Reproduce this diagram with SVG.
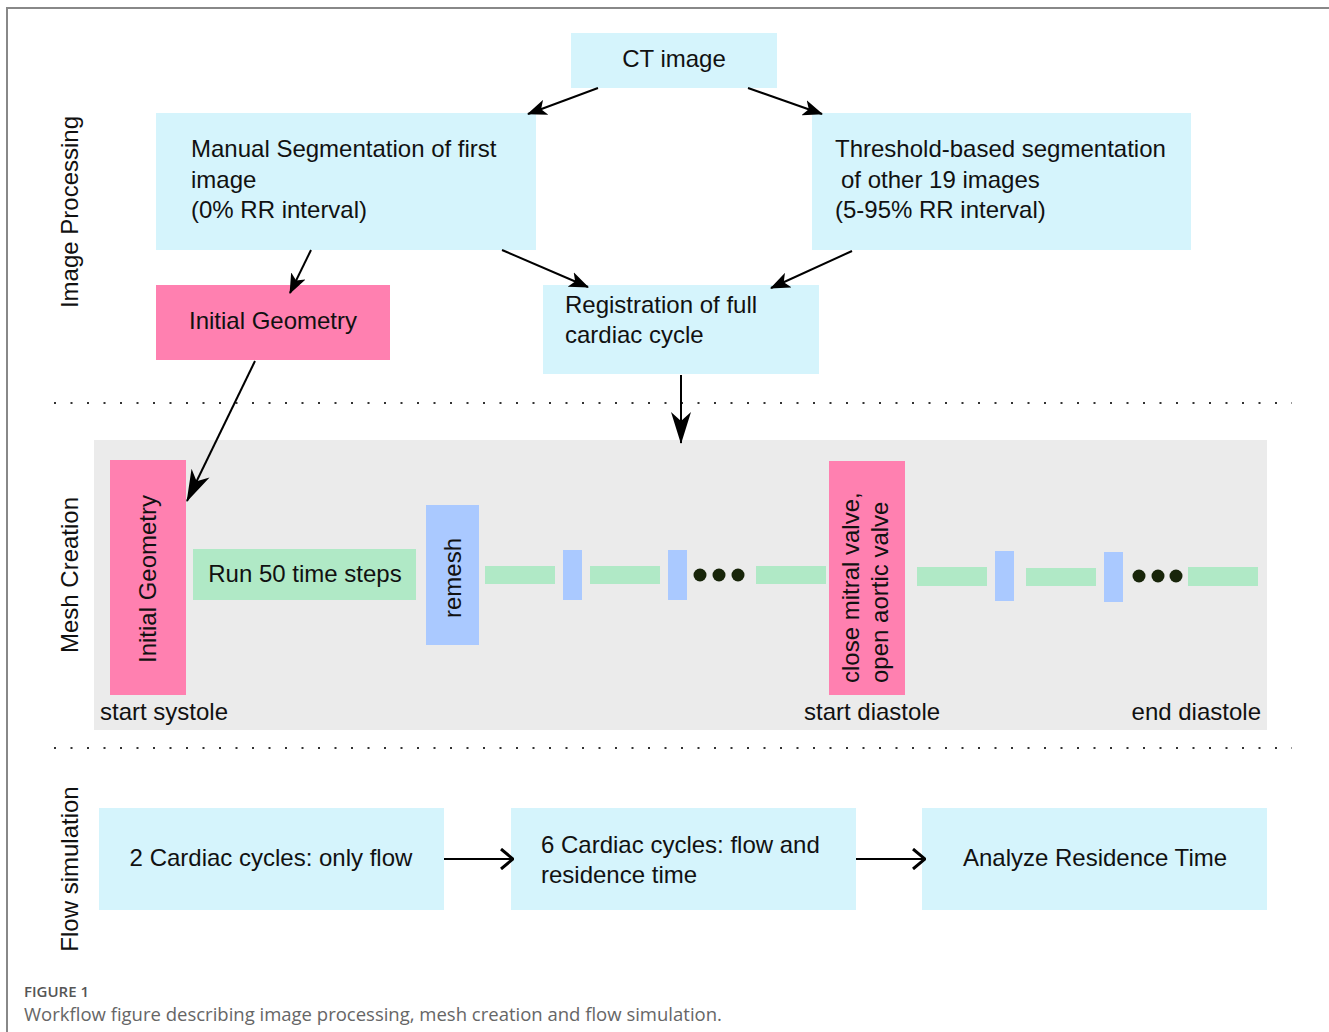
<svg xmlns="http://www.w3.org/2000/svg" width="1329" height="1032" viewBox="0 0 1329 1032">
<defs>
<style>
text{font-family:"Liberation Sans",Arial,sans-serif;font-size:24px;fill:#111}
.cyan{fill:#d5f4fc}
.pink{fill:#ff80b0}
.green{fill:#b0e9c6}
.blue{fill:#aac9ff}
.dot{fill:#18250a}
.conn{stroke:#000;stroke-width:2;fill:none}
.dotted{stroke:#333;stroke-width:2;stroke-dasharray:2 14.5;fill:none}
.cap1{font-family:"Open Sans",sans-serif;font-size:15px;fill:#555;font-weight:600}
.cap2{font-family:"Open Sans",sans-serif;font-size:18.5px;fill:#666}
</style>
<marker id="ah" viewBox="0 0 20 16" refX="19" refY="8" markerWidth="20" markerHeight="16" markerUnits="userSpaceOnUse" orient="auto">
<path d="M0,0 L20,8 L0,16 L5,8 Z" fill="#000"/>
</marker>
<marker id="ahl" viewBox="0 0 32 20" refX="31" refY="10" markerWidth="32" markerHeight="20" markerUnits="userSpaceOnUse" orient="auto">
<path d="M0,0 L32,10 L0,20 L9,10 Z" fill="#000"/>
</marker>
<marker id="oh" viewBox="0 0 14 22" refX="13" refY="11" markerWidth="14" markerHeight="22" markerUnits="userSpaceOnUse" orient="auto">
<path d="M1,1 L13,11 L1,21" fill="none" stroke="#000" stroke-width="3"/>
</marker>
</defs>
<rect width="1329" height="1032" fill="#fff"/>
<path d="M7,1032 V8 H1329" fill="none" stroke="#888" stroke-width="2"/>

<g id="lane-labels">
<text transform="translate(78,212) rotate(-90)" text-anchor="middle">Image Processing</text>
<text transform="translate(78,575) rotate(-90)" text-anchor="middle">Mesh Creation</text>
<text transform="translate(78,869) rotate(-90)" text-anchor="middle">Flow simulation</text>
</g>

<g id="separators">
<line class="dotted" x1="54" y1="403" x2="1292" y2="403"/>
<line class="dotted" x1="54" y1="748" x2="1292" y2="748"/>
</g>

<rect id="mesh-area" x="94" y="440" width="1173" height="290" fill="#ebebeb"/>

<g id="ct-image"><rect class="cyan" x="571" y="33" width="206" height="55"/><text x="674" y="67" text-anchor="middle">CT image</text></g>
<g id="manual-seg"><rect class="cyan" x="156" y="113" width="380" height="137"/>
<text x="191" y="157">Manual Segmentation of first</text><text x="191" y="188">image</text><text x="191" y="218">(0% RR interval)</text></g>
<g id="threshold-seg"><rect class="cyan" x="812" y="113" width="379" height="137"/>
<text x="835" y="157">Threshold-based segmentation</text><text x="841" y="188">of other 19 images</text><text x="835" y="218">(5-95% RR interval)</text></g>
<g id="initial-geometry"><rect class="pink" x="156" y="285" width="234" height="75"/><text x="273" y="329" text-anchor="middle">Initial Geometry</text></g>
<g id="registration"><rect class="cyan" x="543" y="285" width="276" height="89"/>
<text x="565" y="313">Registration of full</text><text x="565" y="343">cardiac cycle</text></g>

<g id="initial-geometry-v"><rect class="pink" x="110" y="460" width="76" height="235"/><text transform="translate(156,579) rotate(-90)" text-anchor="middle">Initial Geometry</text></g>
<g id="run50"><rect class="green" x="193" y="549" width="223" height="51"/><text x="305" y="582" text-anchor="middle">Run 50 time steps</text></g>
<g id="remesh"><rect class="blue" x="426" y="505" width="53" height="140"/><text transform="translate(461,578) rotate(-90)" text-anchor="middle">remesh</text></g>
<g id="steps-1">
<rect class="green" x="485" y="566" width="70" height="18"/>
<rect class="blue" x="563" y="550" width="19" height="50"/>
<rect class="green" x="590" y="566" width="70" height="18"/>
<rect class="blue" x="668" y="550" width="19" height="50"/>
<circle class="dot" cx="700" cy="575" r="6.5"/><circle class="dot" cx="719" cy="575" r="6.5"/><circle class="dot" cx="738" cy="575" r="6.5"/>
<rect class="green" x="756" y="566" width="70" height="18"/>
</g>
<g id="valve"><rect class="pink" x="829" y="461" width="76" height="234"/>
<text transform="translate(859,683) rotate(-90)">close mitral valve,</text>
<text transform="translate(888,683) rotate(-90)">open aortic valve</text></g>
<g id="steps-2">
<rect class="green" x="917" y="567" width="70" height="19"/>
<rect class="blue" x="995" y="551" width="19" height="50"/>
<rect class="green" x="1026" y="568" width="70" height="18"/>
<rect class="blue" x="1104" y="552" width="19" height="50"/>
<circle class="dot" cx="1139" cy="576" r="6.5"/><circle class="dot" cx="1158" cy="576" r="6.5"/><circle class="dot" cx="1176" cy="576" r="6.5"/>
<rect class="green" x="1188" y="567" width="70" height="19"/>
</g>
<g id="phase-labels">
<text x="100" y="720">start systole</text>
<text x="804" y="720">start diastole</text>
<text x="1261" y="720" text-anchor="end">end diastole</text>
</g>

<g id="flow-1"><rect class="cyan" x="99" y="808" width="345" height="102"/><text x="271" y="866" text-anchor="middle">2 Cardiac cycles: only flow</text></g>
<g id="flow-2"><rect class="cyan" x="511" y="808" width="345" height="102"/>
<text x="541" y="853">6 Cardiac cycles: flow and</text><text x="541" y="883">residence time</text></g>
<g id="flow-3"><rect class="cyan" x="922" y="808" width="345" height="102"/><text x="1095" y="866" text-anchor="middle">Analyze Residence Time</text></g>

<g id="connectors">
<line class="conn" x1="598" y1="88" x2="528" y2="114" marker-end="url(#ah)"/>
<line class="conn" x1="748" y1="88" x2="822" y2="114" marker-end="url(#ah)"/>
<line class="conn" x1="311" y1="250" x2="290" y2="293" marker-end="url(#ah)"/>
<line class="conn" x1="502" y1="250" x2="588" y2="287" marker-end="url(#ah)"/>
<line class="conn" x1="852" y1="251" x2="771" y2="288" marker-end="url(#ah)"/>
<line class="conn" x1="681" y1="375" x2="681" y2="443" marker-end="url(#ahl)"/>
<line class="conn" x1="255" y1="361" x2="187" y2="501" marker-end="url(#ahl)"/>
<line class="conn" x1="444" y1="859" x2="513" y2="859" stroke-width="3" marker-end="url(#oh)"/>
<line class="conn" x1="856" y1="859" x2="925" y2="859" stroke-width="3" marker-end="url(#oh)"/>
</g>

<g id="caption">
<text class="cap1" x="24" y="997">FIGURE 1</text>
<text class="cap2" x="24" y="1021">Workflow figure describing image processing, mesh creation and flow simulation.</text>
</g>
</svg>
